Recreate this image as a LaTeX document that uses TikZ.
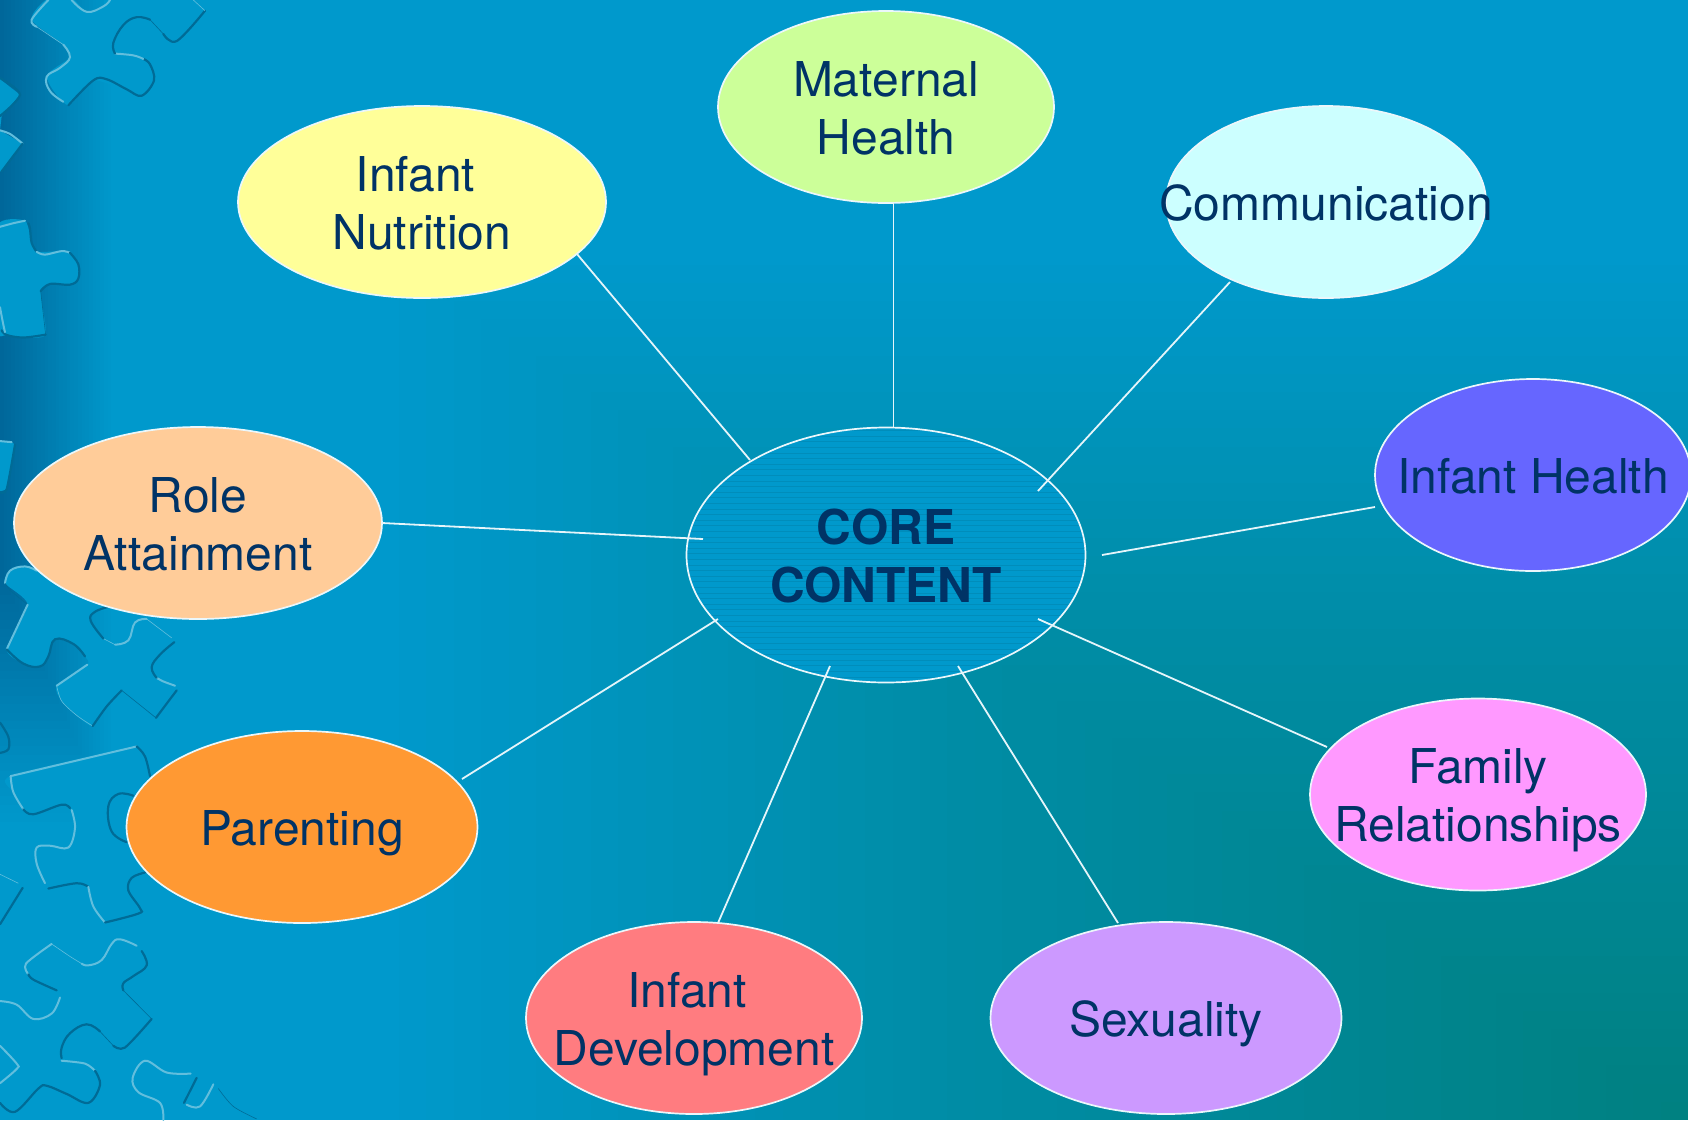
\documentclass[tikz,border=0pt]{standalone}
\usepackage{fontspec}
\setmainfont{TeX Gyre Heros}
\usetikzlibrary{shapes.geometric}
\definecolor{basecol}{HTML}{0099CC}
\definecolor{tealcol}{HTML}{008080}
\definecolor{leftcol}{HTML}{00679A}
\definecolor{txtcol}{HTML}{003366}
\definecolor{pdark}{HTML}{006B96}
\definecolor{plight}{HTML}{62BEDD}
\definecolor{hatchcol}{HTML}{008DBB}
\definecolor{cmat}{HTML}{CCFF99}
\definecolor{cnut}{HTML}{FFFF99}
\definecolor{ccom}{HTML}{CCFFFF}
\definecolor{chea}{HTML}{6666FF}
\definecolor{crol}{HTML}{FFCC99}
\definecolor{cpar}{HTML}{FF9933}
\definecolor{cdev}{HTML}{FF7C80}
\definecolor{csex}{HTML}{CC99FF}
\definecolor{cfam}{HTML}{FF99FF}
\newcommand{\lbl}[1]{\makebox[0pt]{\begin{tabular}{@{}c@{}}\rule{0pt}{54pt}#1\end{tabular}}}
\tikzset{
  bubble/.style={ellipse,draw=white!92!basecol,line width=1.7pt,inner sep=0pt,outer sep=0pt,
    minimum height=192pt,text=txtcol,font=\fontsize{48}{58}\selectfont},
  link/.style={draw=white!90!basecol,line width=1.8pt},
  pfill/.style={fill=basecol},
  dk/.style={draw=pdark,line width=2.2pt,line cap=round},
  lt/.style={draw=plight,line width=2pt,line cap=round},
  thin dk/.style={draw=pdark,line width=0.6pt},
  thin lt/.style={draw=plight,line width=0.6pt},
  hatchline/.style={draw=hatchcol,line width=0.7pt},
}
\begin{document}
\begin{tikzpicture}[x=1pt,y=-1pt]
\useasboundingbox (0,0) rectangle (1688,1120);
\clip (0,0) rectangle (1688,1120);
% background
\fill[basecol] (0,0) rectangle (1688,1120);
\foreach \i in {48,47,...,1}{
  \pgfmathsetmacro{\t}{\i/48*0.78}
  \pgfmathsetmacro{\p}{\t<0.45 ? 100*\t/0.9 : 50+50*(\t-0.45)/0.33}
  \fill[basecol!\p!tealcol] ({1688*(1-\t)},{1120*(1-\t)}) rectangle (1688,1120);
}
\foreach \i in {0,1,...,30}{
  \pgfmathsetmacro{\w}{115*(1-\i/31)}
  \pgfmathsetmacro{\h}{830-260*\i/31}
  \pgfmathsetmacro{\p}{100*\i/30}
  \fill[leftcol!\p!basecol] (0,0) rectangle (\w,\h);
}
% puzzle pieces, upper crop
\begin{scope}[x=0.33333pt,y=-0.35714pt]
\fill[pfill] plot[smooth cycle,tension=0.45] coordinates {(145,-5)(95,55)(190,125)(210,160)(140,215)(205,295)(280,225)(425,268)(462,225)(420,160)(345,150)(370,70)(450,55)(530,115)(615,30)(580,-5)(330,-5)(310,18)(260,33)(215,-5)};
\draw[lt] plot[smooth,tension=0.6] coordinates {(145,0)(95,55)(110,75)};
\draw[thin lt] (110,75) -- (190,125);
\draw[lt] plot[smooth,tension=0.7] coordinates {(190,125)(210,160)(180,190)(140,215)(150,255)(190,285)};
\draw[dk] plot[smooth,tension=0.6] coordinates {(205,295)(280,225)(320,222)(380,250)(425,268)(462,225)(450,180)(430,165)};
\draw[lt] plot[smooth,tension=0.6] coordinates {(430,165)(400,155)(345,150)};
\draw[dk] plot[smooth,tension=0.7] coordinates {(345,150)(340,120)(370,70)(410,48)(450,55)};
\draw[thin dk] plot[smooth] coordinates {(450,55)(490,95)};
\draw[dk] plot[smooth,tension=0.6] coordinates {(490,95)(530,115)(615,30)};
\draw[thin lt] (615,30) -- (580,0);
\draw[lt] plot[smooth,tension=0.7] coordinates {(215,0)(260,33)(310,18)(330,0)};
%
\fill[pfill] plot coordinates {(-5,218)(60,265)(5,325)(0,365)(68,402)(5,480)(-5,480)};
\draw[dk] plot[smooth,tension=0.5] coordinates {(0,218)(60,265)(0,325)};
\draw[lt] plot[smooth,tension=0.5] coordinates {(0,365)(30,375)(68,402)};
\draw[dk] (68,402) -- (5,480);
%
\fill[pfill] plot[smooth cycle,tension=0.35] coordinates {(-10,635)(75,618)(95,680)(110,705)(185,703)(210,708)(235,740)(235,780)(210,797)(150,795)(122,815)(137,937)(70,945)(20,938)(-10,925)};
\draw[lt] plot[smooth,tension=0.4] coordinates {(0,635)(40,625)(75,618)};
\draw[dk] plot[smooth,tension=0.6] coordinates {(85,625)(90,640)(95,680)(110,705)};
\draw[lt] plot[smooth,tension=0.6] coordinates {(110,705)(135,713)(185,703)(210,708)};
\draw[dk] plot[smooth,tension=0.6] coordinates {(210,708)(235,740)(235,780)(210,797)(150,795)(122,815)};
\draw[thin dk] (122,815) -- (137,937);
\draw[dk] plot[smooth,tension=0.6] coordinates {(137,937)(70,945)(20,938)(5,925)};
\draw[lt] plot[smooth,tension=0.6] coordinates {(0,860)(8,900)(15,930)};
%
\fill[pfill] plot coordinates {(-5,1235)(35,1238)(45,1245)(20,1370)(-5,1378)};
\draw[lt] (0,1235) -- (35,1238);
\draw[dk] plot[smooth,tension=0.4] coordinates {(45,1245)(20,1370)(0,1378)};
\end{scope}
% puzzle pieces, lower crop
\begin{scope}[yshift=-560pt,x=0.33333pt,y=-0.35714pt]
\fill[pfill] plot[smooth cycle,tension=0.4] coordinates {(15,65)(30,30)(75,18)(110,30)(330,130)(285,145)(272,170)(310,220)(345,237)(385,225)(405,175)(440,165)(515,218)(523,230)(480,265)(455,300)(470,330)(530,365)(468,442)(365,365)(320,410)(278,465)(230,435)(185,395)(170,352)(262,293)(255,270)(220,235)(165,222)(145,270)(120,298)(70,290)(20,250)(83,125)};
\draw[lt] plot[smooth,tension=0.7] coordinates {(15,65)(30,30)(75,18)(110,30)};
\draw[thin dk] (15,65) -- (30,85) -- (83,125);
\draw[lt] (83,125) -- (20,250);
\draw[dk] plot[smooth,tension=0.7] coordinates {(20,250)(70,290)(120,298)(145,270)(165,222)(220,235)(255,270)};
\draw[lt] (262,293) -- (170,352);
\draw[thin lt] plot[smooth] coordinates {(170,352)(185,395)(230,435)(278,465)};
\draw[dk] plot[smooth,tension=0.5] coordinates {(278,465)(320,410)(365,365)};
\draw[thin dk] (365,365) -- (468,442);
\draw[dk] (468,442) -- (530,365);
\draw[lt] plot[smooth,tension=0.5] coordinates {(525,352)(490,340)(470,330)};
\draw[dk] plot[smooth,tension=0.7] coordinates {(470,330)(455,300)(480,265)(523,230)};
\draw[thin lt] (515,218) -- (440,165);
\draw[lt] plot[smooth,tension=0.7] coordinates {(440,165)(405,175)(385,225)(345,237)};
\draw[thin lt] (345,237) -- (310,220);
\draw[dk] plot[smooth,tension=0.7] coordinates {(310,220)(272,170)(285,145)(330,130)};
%
\fill[pfill] plot[smooth cycle,tension=0.4] coordinates {(32,605)(410,522)(435,550)(450,605)(500,700)(435,875)(395,890)(385,925)(415,965)(418,990)(315,1015)(280,970)(265,915)(145,920)(110,850)(110,805)(205,805)(225,750)(210,695)(185,685)(100,712)(70,698)(40,650)};
\draw[lt] (32,605) -- (410,522);
\draw[dk] plot[smooth,tension=0.6] coordinates {(410,522)(435,550)(450,605)};
\draw[dk] plot[smooth,tension=0.7] coordinates {(400,660)(355,655)(325,690)(335,760)(380,790)};
\draw[lt] plot[smooth,tension=0.6] coordinates {(32,605)(40,650)(70,698)};
\draw[dk] plot[smooth,tension=0.6] coordinates {(70,698)(100,712)(185,685)(210,695)};
\draw[lt] plot[smooth,tension=0.6] coordinates {(215,700)(225,750)(205,805)(150,800)(110,805)(110,850)(135,905)};
\draw[dk] plot[smooth,tension=0.6] coordinates {(145,920)(230,905)(265,915)};
\draw[lt] plot[smooth,tension=0.6] coordinates {(265,915)(280,970)(315,1015)};
\draw[dk] plot[smooth,tension=0.6] coordinates {(315,1015)(415,990)(420,975)(385,925)(395,890)(435,875)};
%
\draw[dk] plot[smooth,tension=0.6] coordinates {(0,455)(25,495)(25,530)(0,540)};
\draw[thin lt] (0,880) -- (55,905);
\draw[dk] (68,918) -- (0,1020);
%
\fill[pfill] plot[smooth cycle,tension=0.4] coordinates {(80,1125)(155,1075)(265,1135)(335,1075)(410,1080)(440,1135)(370,1195)(455,1285)(375,1365)(300,1320)(260,1300)(185,1365)(185,1400)(285,1430)(300,1470)(265,1520)(140,1472)(45,1545)(-10,1520)(-10,1235)(100,1285)(180,1225)(85,1160)};
\draw[lt] plot[smooth,tension=0.5] coordinates {(85,1160)(78,1130)(155,1075)};
\draw[thin lt] plot[smooth] coordinates {(155,1075)(210,1110)(245,1130)};
\draw[lt] plot[smooth,tension=0.7] coordinates {(245,1130)(265,1135)(305,1120)(335,1075)(360,1062)(410,1080)};
\draw[dk] plot[smooth,tension=0.7] coordinates {(425,1095)(440,1135)(400,1165)(370,1185)(370,1205)};
\draw[thin dk] (370,1205) -- (455,1285);
\draw[dk] plot[smooth,tension=0.5] coordinates {(455,1285)(375,1365)(340,1360)};
\draw[thin dk] plot[smooth] coordinates {(340,1360)(300,1320)};
\draw[dk] plot[smooth,tension=0.7] coordinates {(300,1320)(260,1300)(210,1325)(185,1365)(185,1395)};
\draw[lt] plot[smooth,tension=0.5] coordinates {(185,1402)(255,1410)(285,1430)};
\draw[dk] plot[smooth,tension=0.6] coordinates {(285,1430)(300,1470)(265,1520)(200,1495)(140,1472)(115,1480)(45,1545)(0,1520)};
\draw[lt] plot[smooth,tension=0.6] coordinates {(0,1360)(50,1410)(50,1425)(0,1465)};
\draw[lt] plot[smooth,tension=0.6] coordinates {(0,1235)(50,1245)(100,1285)(155,1270)(180,1225)};
\draw[dk] plot[smooth,tension=0.5] coordinates {(170,1205)(100,1175)(85,1160)};
%
\draw[lt] plot[smooth,tension=0.6] coordinates {(572,1438)(500,1435)(435,1402)(398,1450)(415,1490)(480,1520)(490,1568)};
\draw[dk] (590,1450) -- (552,1520);
\draw[lt] plot[smooth,tension=0.6] coordinates {(560,1525)(600,1530)(640,1468)};
\draw[thin dk] plot[smooth] coordinates {(655,1480)(700,1530)(770,1565)};
\end{scope}
% nodes
\node[bubble,minimum width=336pt,fill=cmat] (maternal) at (886,107) {\lbl{Maternal\\Health}};
\node[bubble,minimum width=368pt,fill=cnut] (nutrition) at (422,202) {\lbl{Infant\hspace*{13pt}\\Nutrition}};
\node[bubble,minimum width=320pt,fill=ccom] (communication) at (1326,202) {\lbl{Communication}};
\node[bubble,minimum width=316pt,fill=chea] (health) at (1533,475) {\lbl{Infant Health}};
\node[bubble,minimum width=368pt,fill=crol] (role) at (198,523) {\lbl{Role\\Attainment}};
\node[bubble,minimum width=351pt,fill=cpar] (parenting) at (302,827) {\lbl{Parenting}};
\node[bubble,minimum width=336pt,fill=cdev] (development) at (694,1018) {\lbl{Infant\hspace*{14pt}\\Development}};
\node[bubble,minimum width=351pt,fill=csex] (sexuality) at (1166,1018) {\lbl{Sexuality}};
\node[bubble,minimum width=336pt,fill=cfam] (family) at (1478,794.5) {\lbl{Family\\Relationships}};
\node[bubble,minimum width=399pt,minimum height=255pt,fill=basecol,
  path picture={\foreach \i in {0,1,...,46}{\draw[hatchline] (path picture bounding box.north west) ++(0,{3+\i*5.6}) -- ++(420,0);}}]
  (core) at (886,555) {\lbl{\bfseries CORE\\\bfseries CONTENT}};
% connector ends inside the core
\coordinate (eNut) at ([shift={(-136,-95)}]core.center);
\coordinate (eMat) at ([shift={(7.5,-128)}]core.center);
\coordinate (eCom) at ([shift={(152,-64)}]core.center);
\coordinate (eHea) at ([shift={(216,0)}]core.center);
\coordinate (eFam) at ([shift={(152,64)}]core.center);
\coordinate (eSex) at ([shift={(72,111)}]core.center);
\coordinate (eDev) at ([shift={(-56,111)}]core.center);
\coordinate (ePar) at ([shift={(-168,64)}]core.center);
\coordinate (eRol) at ([shift={(-183,-16)}]core.center);
% connector ends at the outer nodes
\coordinate (oNut) at ([shift={(155,52)}]nutrition.center);
\coordinate (oMat) at ([shift={(7.5,96)}]maternal.center);
\coordinate (oCom) at ([shift={(-96,80)}]communication.center);
\coordinate (oHea) at ([shift={(-158,32)}]health.center);
\coordinate (oFam) at ([shift={(-151,-47.5)}]family.center);
\coordinate (oSex) at ([shift={(-48,-95)}]sexuality.center);
\coordinate (oDev) at ([shift={(24,-95)}]development.center);
\coordinate (oPar) at ([shift={(160,-48)}]parenting.center);
\coordinate (oRol) at ([shift={(184,0)}]role.center);
\draw[link] (oNut) -- (eNut);
\draw[link] (oMat) -- (eMat);
\draw[link] (oCom) -- (eCom);
\draw[link] (oHea) -- (eHea);
\draw[link] (oFam) -- (eFam);
\draw[link] (oSex) -- (eSex);
\draw[link] (oDev) -- (eDev);
\draw[link] (oPar) -- (ePar);
\draw[link] (oRol) -- (eRol);
\end{tikzpicture}
\end{document}
